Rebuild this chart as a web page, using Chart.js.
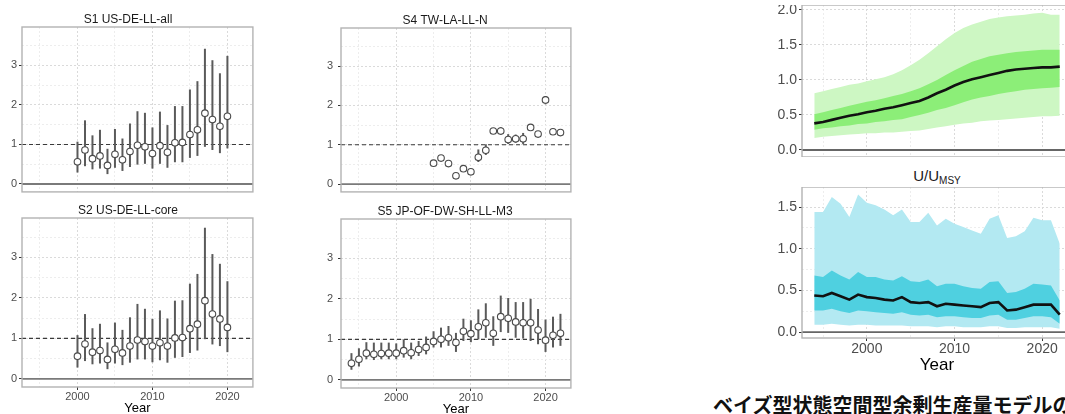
<!DOCTYPE html>
<html>
<head>
<meta charset="utf-8">
<script src="https://cdn.jsdelivr.net/npm/chart.js@4/dist/chart.umd.min.js"></script>
<style>
  html, body { margin: 0; padding: 0; background: #fff; }
  body { width: 1065px; height: 414px; position: relative; overflow: hidden; font-family: Arial, "Liberation Sans", sans-serif; }
  canvas { position: absolute; }
  .ptitle { position: absolute; font-size: 15px; line-height: 17px; color: #1a1a1a; white-space: nowrap; transform: translateX(-50%); }
  .ptitle sub { font-size: 10px; line-height: 0; vertical-align: -3px; }
  .caption { position: absolute; left: 713px; top: 395px; font-size: 20px; line-height: 20px; font-weight: bold; font-family: "Noto Sans CJK JP", sans-serif; color: #111; white-space: nowrap; }
</style>
</head>
<body>
<div class="ptitle" style="left:937px; top:-18px">B/B<sub>MSY</sub></div>
<div class="ptitle" style="left:937px; top:167px">U/U<sub>MSY</sub></div>
<div class="caption">ベイズ型状態空間型余剰生産量モデルの</div>
<script>
// index series (years 2000-2020)
const yearsUS = [2000, 2001, 2002, 2003, 2004, 2005, 2006, 2007, 2008, 2009, 2010,
                 2011, 2012, 2013, 2014, 2015, 2016, 2017, 2018, 2019, 2020];
const s1Mid = [0.56, 0.86, 0.64, 0.71, 0.47, 0.75, 0.61, 0.82, 0.98, 0.94, 0.77, 0.97, 0.80, 1.04, 1.05, 1.25, 1.37, 1.79, 1.63, 1.46, 1.71];
const s1Lo  = [0.29, 0.45, 0.37, 0.39, 0.25, 0.41, 0.33, 0.43, 0.49, 0.51, 0.39, 0.51, 0.41, 0.55, 0.55, 0.66, 0.71, 0.94, 0.86, 0.78, 0.90];
const s1Hi  = [1.07, 1.61, 1.23, 1.37, 0.89, 1.39, 1.15, 1.53, 1.84, 1.80, 1.43, 1.83, 1.49, 1.97, 1.97, 2.39, 2.60, 3.42, 3.13, 2.80, 3.24];

const s2Mid = [0.56, 0.86, 0.66, 0.70, 0.48, 0.73, 0.64, 0.81, 0.96, 0.92, 0.81, 0.89, 0.81, 1.01, 1.02, 1.24, 1.35, 1.93, 1.60, 1.48, 1.27];
const s2Lo  = [0.28, 0.44, 0.36, 0.38, 0.24, 0.38, 0.34, 0.40, 0.48, 0.48, 0.41, 0.46, 0.40, 0.52, 0.54, 0.64, 0.70, 0.98, 0.85, 0.81, 0.66];
const s2Hi  = [1.08, 1.60, 1.25, 1.36, 0.90, 1.39, 1.21, 1.52, 1.85, 1.73, 1.48, 1.69, 1.49, 1.93, 1.94, 2.35, 2.59, 3.73, 3.08, 2.84, 2.41];

const yearsTW = [2005, 2006, 2007, 2008, 2009, 2010, 2011, 2012, 2013,
                 2014, 2015, 2016, 2017, 2018, 2019, 2020, 2021, 2022];
const s4Mid = [0.53, 0.66, 0.52, 0.21, 0.39, 0.31, 0.68, 0.86, 1.35, 1.35, 1.13, 1.15, 1.15, 1.44, 1.27, 2.14, 1.33, 1.31];
const s4Lo  = [0.49, 0.62, 0.48, 0.18, 0.34, 0.27, 0.56, 0.74, 1.30, 1.25, 1.02, 1.05, 1.02, 1.38, 1.22, 2.03, 1.28, 1.26];
const s4Hi  = [0.57, 0.70, 0.56, 0.25, 0.45, 0.35, 0.88, 1.01, 1.40, 1.45, 1.27, 1.26, 1.30, 1.51, 1.32, 2.24, 1.38, 1.36];

const yearsAll = [1994, 1995, 1996, 1997, 1998, 1999, 2000, 2001, 2002, 2003, 2004, 2005, 2006, 2007, 2008,
                  2009, 2010, 2011, 2012, 2013, 2014, 2015, 2016, 2017, 2018, 2019, 2020, 2021, 2022];
const s5Mid = [0.41, 0.51, 0.66, 0.63, 0.65, 0.66, 0.66, 0.72, 0.67, 0.75, 0.80, 0.95, 1.00, 1.04, 0.92,
               1.20, 1.14, 1.31, 1.41, 1.15, 1.56, 1.52, 1.43, 1.41, 1.41, 1.23, 0.98, 1.10, 1.15];
const s5Lo  = [0.25, 0.33, 0.51, 0.49, 0.51, 0.51, 0.51, 0.55, 0.51, 0.59, 0.63, 0.80, 0.80, 0.84, 0.69,
               0.96, 0.93, 1.00, 1.04, 0.84, 1.18, 1.16, 1.04, 1.02, 0.96, 0.88, 0.69, 0.80, 0.84];
const s5Hi  = [0.66, 0.78, 0.93, 0.92, 0.92, 0.92, 0.90, 1.00, 0.92, 0.96, 1.07, 1.20, 1.29, 1.33, 1.16,
               1.51, 1.47, 1.74, 1.89, 1.57, 2.08, 2.02, 1.92, 1.92, 2.00, 1.75, 1.49, 1.56, 1.63];

// B/Bmsy: median, 50% and 95% bands
const bMed   = [0.38, 0.40, 0.43, 0.46, 0.49, 0.51, 0.54, 0.56, 0.59, 0.61, 0.64, 0.67, 0.70, 0.75, 0.81,
                0.86, 0.92, 0.97, 1.01, 1.04, 1.07, 1.10, 1.13, 1.15, 1.16, 1.17, 1.18, 1.18, 1.19];
const bInLo  = [0.29, 0.31, 0.32, 0.34, 0.35, 0.37, 0.38, 0.40, 0.41, 0.43, 0.44, 0.47, 0.50, 0.53, 0.57,
                0.60, 0.64, 0.68, 0.72, 0.75, 0.77, 0.80, 0.82, 0.84, 0.86, 0.87, 0.88, 0.89, 0.90];
const bInHi  = [0.51, 0.54, 0.57, 0.60, 0.63, 0.66, 0.69, 0.71, 0.74, 0.77, 0.80, 0.84, 0.88, 0.94, 1.00,
                1.07, 1.14, 1.20, 1.26, 1.30, 1.34, 1.36, 1.38, 1.40, 1.41, 1.42, 1.43, 1.43, 1.43];
const bOutLo = [0.17, 0.19, 0.20, 0.21, 0.22, 0.23, 0.24, 0.24, 0.25, 0.25, 0.26, 0.27, 0.28, 0.30, 0.32,
                0.34, 0.36, 0.38, 0.39, 0.41, 0.42, 0.43, 0.44, 0.45, 0.46, 0.47, 0.48, 0.48, 0.49];
const bOutHi = [0.81, 0.84, 0.87, 0.90, 0.93, 0.95, 0.98, 1.01, 1.04, 1.08, 1.14, 1.21, 1.29, 1.38, 1.48,
                1.58, 1.67, 1.74, 1.79, 1.83, 1.87, 1.89, 1.91, 1.92, 1.93, 1.95, 1.96, 1.93, 1.93];

// U/Umsy
const uMed   = [0.44, 0.43, 0.47, 0.43, 0.39, 0.45, 0.42, 0.41, 0.39, 0.38, 0.42, 0.36, 0.35, 0.36, 0.31,
                0.34, 0.33, 0.32, 0.31, 0.30, 0.35, 0.36, 0.26, 0.27, 0.30, 0.33, 0.33, 0.33, 0.21];
const uInLo  = [0.26, 0.26, 0.28, 0.25, 0.23, 0.26, 0.25, 0.24, 0.23, 0.22, 0.24, 0.21, 0.20, 0.21, 0.18,
                0.19, 0.19, 0.18, 0.17, 0.17, 0.20, 0.21, 0.15, 0.15, 0.17, 0.19, 0.19, 0.18, 0.10];
const uInHi  = [0.68, 0.66, 0.74, 0.68, 0.63, 0.72, 0.66, 0.66, 0.63, 0.62, 0.67, 0.61, 0.60, 0.63, 0.55,
                0.58, 0.58, 0.55, 0.53, 0.52, 0.60, 0.61, 0.47, 0.48, 0.52, 0.58, 0.57, 0.56, 0.38];
const uOutLo = [0.09, 0.09, 0.10, 0.09, 0.08, 0.09, 0.09, 0.08, 0.08, 0.08, 0.08, 0.07, 0.07, 0.07, 0.06,
                0.07, 0.07, 0.06, 0.06, 0.06, 0.07, 0.07, 0.05, 0.05, 0.06, 0.06, 0.06, 0.06, 0.04];
const uOutHi = [1.44, 1.44, 1.62, 1.54, 1.38, 1.65, 1.55, 1.52, 1.47, 1.40, 1.47, 1.32, 1.32, 1.43, 1.28,
                1.36, 1.30, 1.26, 1.22, 1.18, 1.36, 1.40, 1.13, 1.15, 1.21, 1.37, 1.34, 1.34, 1.06];

// axis breaks
const xBreaks = [1995, 2000, 2005, 2010, 2015, 2020];
const xLabelled = [2000, 2010, 2020];
const ySBreaks = [0, 0.5, 1, 1.5, 2, 2.5, 3, 3.5];
const ySLabelled = [0, 1, 2, 3];
const yBBreaks = [0, 0.25, 0.5, 0.75, 1, 1.25, 1.5, 1.75, 2];
const yUBreaks = [0, 0.25, 0.5, 0.75, 1, 1.25, 1.5];
const yRLabelled = [0, 0.5, 1, 1.5, 2];

const FONT = 'Arial, "Liberation Sans", sans-serif';
Chart.defaults.font.family = FONT;
Chart.defaults.color = '#4d4d4d';

// reference lines (hline at 0 / dashed at 1) and the grey panel frame
const panelDecor = {
    id: 'panelDecor',
    beforeDatasetsDraw(chart, args, opts) {
        const { ctx, chartArea: a } = chart;
        const y = chart.scales.y;
        ctx.save();
        ctx.beginPath();
        ctx.rect(a.left, a.top, a.right - a.left, a.bottom - a.top);
        ctx.clip();
        (opts.solid || []).forEach((v) => {
            const py = y.getPixelForValue(v);
            ctx.strokeStyle = opts.solidColor || '#7a7a7a';
            ctx.lineWidth = 1.8;
            ctx.setLineDash([]);
            ctx.beginPath();
            ctx.moveTo(a.left, py);
            ctx.lineTo(a.right, py);
            ctx.stroke();
        });
        (opts.dashed || []).forEach((v) => {
            const py = y.getPixelForValue(v);
            ctx.strokeStyle = '#3a3a3a';
            ctx.lineWidth = 1.1;
            ctx.setLineDash([4, 3]);
            ctx.beginPath();
            ctx.moveTo(a.left, py);
            ctx.lineTo(a.right, py);
            ctx.stroke();
        });
        ctx.restore();
    },
    afterDraw(chart) {
        const { ctx, chartArea: a } = chart;
        ctx.save();
        ctx.strokeStyle = '#b3b3b3';
        ctx.lineWidth = 1.4;
        ctx.strokeRect(a.left, a.top, a.right - a.left, a.bottom - a.top);
        ctx.restore();
    },
};

function gridFor(labelled) {
    const major = (c) => c.tick && labelled.includes(c.tick.value);
    return {
        color: (c) => (major(c) ? '#dadada' : '#ededed'),
        tickColor: (c) => (major(c) ? '#333333' : 'rgba(0,0,0,0)'),
        lineWidth: 1,
        tickLength: 3,
        offset: false,
    };
}

function makeCanvas(rect, yW, topH, xH, padR) {
    const canvas = document.createElement('canvas');
    canvas.width = rect.r - rect.l + yW + padR;
    canvas.height = rect.b - rect.t + topH + xH;
    canvas.style.left = (rect.l - yW) + 'px';
    canvas.style.top = (rect.t - topH) + 'px';
    document.body.appendChild(canvas);
    return canvas;
}

function xScale(range, showX, xH, tickFont, titleFont) {
    return {
        type: 'linear',
        min: range[0],
        max: range[1],
        offset: false,
        grid: { ...gridFor(xLabelled), drawTicks: showX },
        border: { display: false, dash: [2, 2] },
        ticks: {
            display: showX,
            padding: 0,
            maxRotation: 0,
            font: { size: tickFont },
            callback: (v) => (xLabelled.includes(v) ? String(v) : ''),
        },
        title: {
            display: showX,
            text: 'Year',
            color: '#000',
            font: { size: titleFont },
            padding: 0,
        },
        afterBuildTicks: (s) => { s.ticks = xBreaks.map((v) => ({ value: v })); },
        afterFit: (s) => { s.height = xH; s.paddingLeft = 0; s.paddingRight = 0; },
    };
}

function yScale(range, breaks, labelled, yW, pad, tickFont, fmt) {
    return {
        min: range[0],
        max: range[1],
        grid: gridFor(labelled),
        border: { display: false, dash: [2, 2] },
        ticks: {
            padding: pad,
            font: { size: tickFont },
            callback: (v) => (labelled.includes(v) ? fmt(v) : ''),
        },
        afterBuildTicks: (s) => { s.ticks = breaks.map((v) => ({ value: v })); },
        afterFit: (s) => { s.width = yW; s.paddingTop = 0; s.paddingBottom = 0; },
    };
}

function indexPanel(rect, title, years, mid, lo, hi, showX, yW, yPad) {
    const topH = 15;
    const xH = showX ? 29 : 0;
    const canvas = makeCanvas(rect, yW, topH, xH, 2);
    return new Chart(canvas, {
        type: 'bar',
        data: {
            datasets: [
                {
                    type: 'scatter',
                    data: years.map((x, i) => ({ x, y: mid[i] })),
                    pointRadius: 3.3,
                    pointBackgroundColor: '#ffffff',
                    pointBorderColor: '#4a4a4a',
                    pointBorderWidth: 1.1,
                    order: 0,
                },
                {
                    type: 'bar',
                    data: years.map((x, i) => ({ x, y: [lo[i], hi[i]] })),
                    backgroundColor: '#5a5a5a',
                    borderWidth: 0,
                    barThickness: 2,
                    maxBarThickness: 2,
                    inflateAmount: 0,
                    order: 1,
                },
            ],
        },
        options: {
            responsive: false,
            animation: false,
            layout: { padding: { left: 0, right: 2, top: 0, bottom: 0 } },
            plugins: {
                legend: { display: false },
                tooltip: { enabled: false },
                title: {
                    display: true,
                    text: title,
                    color: '#1a1a1a',
                    font: { size: 12, lineHeight: topH / 12, weight: 'normal' },
                    padding: 0,
                },
                panelDecor: { solid: [0], dashed: [1] },
            },
            scales: {
                x: xScale([1992.6, 2023.4], showX, xH, 11, 13),
                y: yScale([-0.2, 3.97], ySBreaks, ySLabelled, yW, yPad, 11, (v) => String(v)),
            },
        },
        plugins: [panelDecor],
    });
}

function bandPanel(rect, yRange, yBreaks, med, inLo, inHi, outLo, outHi, inCol, outCol, showX) {
    const yW = 30;
    const xH = showX ? 38 : 0;
    const canvas = makeCanvas(rect, yW, 0, xH, 2);
    const pts = (arr) => yearsAll.map((x, i) => ({ x, y: arr[i] }));
    const band = (arr, fill, col, order) => ({
        data: pts(arr),
        borderColor: 'rgba(0,0,0,0)',
        borderWidth: 0,
        pointRadius: 0,
        backgroundColor: col,
        fill,
        order,
    });
    return new Chart(canvas, {
        type: 'line',
        data: {
            datasets: [
                { data: pts(med), borderColor: '#111111', borderWidth: 2.6, pointRadius: 0, fill: false, order: 0 },
                band(inLo, false, inCol, 1),
                band(inHi, 1, inCol, 1),
                band(outLo, false, outCol, 2),
                band(outHi, 3, outCol, 2),
            ],
        },
        options: {
            responsive: false,
            animation: false,
            layout: { padding: { left: 0, right: 2, top: 0, bottom: 0 } },
            plugins: {
                legend: { display: false },
                tooltip: { enabled: false },
                panelDecor: { solid: [0], solidColor: '#666666' },
            },
            scales: {
                x: xScale([1992.6, 2023.4], showX, xH, 14, 17),
                y: yScale(yRange, yBreaks, yRLabelled, yW, 2, 14, (v) => v.toFixed(1)),
            },
        },
        plugins: [panelDecor],
    });
}

indexPanel({ l: 22, t: 27, r: 256, b: 197 }, 'S1 US-DE-LL-all', yearsUS, s1Mid, s1Lo, s1Hi, false, 22, 2);
indexPanel({ l: 22, t: 218, r: 256, b: 387 }, 'S2 US-DE-LL-core', yearsUS, s2Mid, s2Lo, s2Hi, true, 22, 2);
indexPanel({ l: 341, t: 28, r: 574, b: 197 }, 'S4 TW-LA-LL-N', yearsTW, s4Mid, s4Lo, s4Hi, false, 25, 5);
indexPanel({ l: 341, t: 219, r: 574, b: 388 }, 'S5 JP-OF-DW-SH-LL-M3', yearsAll, s5Mid, s5Lo, s5Hi, true, 25, 5);

bandPanel({ l: 802, t: 5, r: 1072, b: 157 }, [-0.1, 2.07], yBBreaks,
    bMed, bInLo, bInHi, bOutLo, bOutHi, '#8cee78', '#cdf7c3', false);
bandPanel({ l: 802, t: 187, r: 1072, b: 338 }, [-0.07, 1.74], yUBreaks,
    uMed, uInLo, uInHi, uOutLo, uOutHi, '#4fd0e0', '#b3e9f2', true);
</script>
</body>
</html>
